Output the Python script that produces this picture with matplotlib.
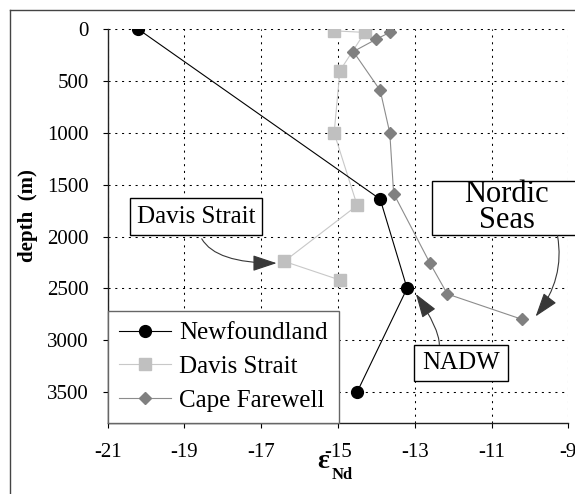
import matplotlib
matplotlib.use("Agg")
import matplotlib.pyplot as plt
from matplotlib.patches import FancyArrowPatch, Rectangle
from matplotlib.lines import Line2D

plt.rcParams["font.family"] = ["Liberation Serif", "DejaVu Serif"]
plt.rcParams["axes.unicode_minus"] = False

# eps_Nd profiles vs depth (m)
nf_eps = [-20.2, -13.9, -13.2, -14.5]
nf_depth = [0, 1640, 2500, 3500]

ds_eps = [-15.1, -14.3, -14.95, -15.1, -14.5, -16.4, -14.95]
ds_depth = [15, 30, 400, 1000, 1700, 2240, 2420]

cf_eps = [-13.65, -14.0, -14.6, -13.9, -13.65, -13.55, -12.6, -12.15, -10.2]
cf_depth = [30, 95, 215, 590, 1000, 1585, 2260, 2555, 2800]

series_names = ["Newfoundland", "Davis Strait", "Cape Farewell"]
x_ticks = [-21, -19, -17, -15, -13, -11, -9]
y_ticks = [0, 500, 1000, 1500, 2000, 2500, 3000, 3500]

fig = plt.figure(figsize=(5.75, 4.94), dpi=100)
ax = fig.add_axes([0.1873, 0.1437, 0.801, 0.797])

ax.plot(nf_eps, nf_depth, color="black", lw=0.8, marker="o", ms=8.5,
        mfc="black", mec="black", label=series_names[0], zorder=4)
ax.plot(ds_eps, ds_depth, color="#c8c8c8", lw=0.8, marker="s", ms=8.5,
        mfc="#c0c0c0", mec="#c0c0c0", label=series_names[1], zorder=3)
ax.plot(cf_eps, cf_depth, color="#8c8c8c", lw=0.8, marker="D", ms=6,
        mfc="#808080", mec="#808080", label=series_names[2], zorder=3)

ax.set_xlim(-21, -9)
ax.set_ylim(3800, 0)
ax.set_xticks(x_ticks)
ax.set_yticks(y_ticks)
ax.grid(True, color="black", lw=0.75, linestyle=(0, (2, 4.5)))
ax.set_axisbelow(True)

for side in ("top", "right"):
    ax.spines[side].set_visible(False)
for side in ("left", "bottom"):
    ax.spines[side].set_linewidth(1)
    ax.spines[side].set_color("#222")

ax.tick_params(direction="out", length=3.6, width=0.8, labelsize=15)
ax.tick_params(axis="y", pad=10)
ax.tick_params(axis="x", pad=11)

leg = ax.legend(loc="lower left", bbox_to_anchor=(0, 0), borderaxespad=0,
                fontsize=18, fancybox=False, edgecolor="#666", framealpha=1,
                handlelength=2.1, handletextpad=0.3, labelspacing=0.45,
                borderpad=0.45)
leg.get_frame().set_linewidth(1)

# annotation boxes
boxes = [
    ((-20.42, 1630), 3.45, 354, "Davis Strait", (-18.70, 1807), 18, 1.0),
    ((-12.54, 1460), 3.87, 524, "Nordic\nSeas", (-10.6, 1723), 22, 0.85),
    ((-13.02, 3044), 2.46, 354, "NADW", (-11.79, 3218), 18, 1.0),
]
for (x0, y0), w, h, txt, (tx, ty), fs, ls in boxes:
    ax.add_patch(Rectangle((x0, y0), w, h, fc="white", ec="black", lw=1,
                           clip_on=False, zorder=5))
    ax.text(tx, ty, txt, ha="center", va="center", fontsize=fs,
            linespacing=ls, zorder=6, clip_on=False)

arrows = [
    ((-18.55, 2022), (-16.60, 2257), "angle3,angleA=-60,angleB=0"),
    ((-9.28, 1993), (-9.85, 2771), "angle3,angleA=-80,angleB=52"),
    ((-12.36, 3043), (-12.97, 2555), "angle3,angleA=90,angleB=124"),
]
for a, b, cs in arrows:
    ax.add_patch(FancyArrowPatch(a, b, connectionstyle=cs,
                                 arrowstyle="-|>,head_length=15,head_width=5",
                                 mutation_scale=1, color="#383838", lw=0.8,
                                 shrinkA=0, shrinkB=0, zorder=6,
                                 clip_on=False))

# axis labels
fig.text(28 / 575, 1 - 216 / 494, "depth  (m)", rotation=90, ha="center",
         va="center", fontsize=15, fontweight="bold")
fig.text(323 / 575, 1 - 468 / 494, "\u03b5", ha="center", va="baseline",
         fontsize=20, fontweight="bold")
fig.text(332 / 575, 1 - 479 / 494, "Nd", ha="left", va="baseline",
         fontsize=12, fontweight="bold")

# outer frame
fig.add_artist(Line2D([10 / 575, 10 / 575], [0, 1 - 10 / 494],
                      transform=fig.transFigure, color="#444", lw=1))
fig.add_artist(Line2D([10 / 575, 1], [1 - 10 / 494, 1 - 10 / 494],
                      transform=fig.transFigure, color="#444", lw=1))

fig.savefig("out.png", dpi=100)
